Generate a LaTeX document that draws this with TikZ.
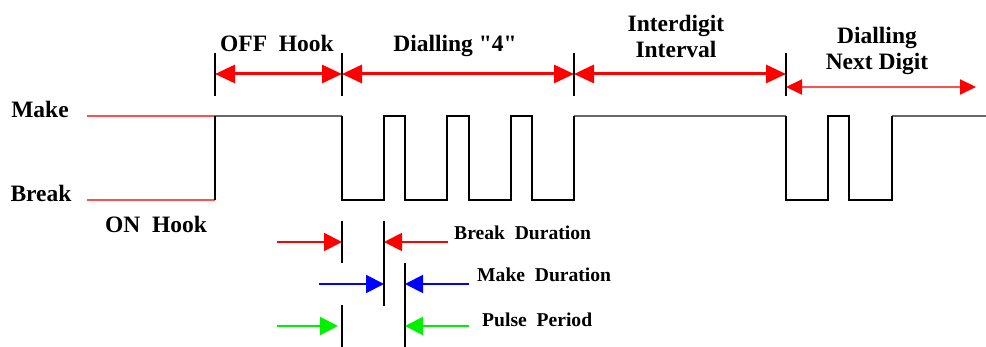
\documentclass[tikz,border=0pt]{standalone}
\usepackage{fontspec}
\setmainfont{Liberation Serif}
\usetikzlibrary{arrows.meta}
\definecolor{faintred}{RGB}{255,80,80}
\definecolor{lightred}{RGB}{255,80,80}
\definecolor{idlegray}{RGB}{105,105,105}
\definecolor{bgreen}{RGB}{0,240,0}
\begin{document}
\begin{tikzpicture}[x=1pt,y=-1pt,
  lbl/.style={font=\fontsize{23.5}{26}\selectfont\bfseries, inner sep=0, align=center},
  slbl/.style={font=\fontsize{19.6}{22}\selectfont\bfseries, inner sep=0, anchor=base west},
  pulse/.style={line width=2pt, black, line join=miter},
  idle/.style={line width=1.6pt, idlegray},
  faint/.style={line width=1.3pt, faintred},
  marker/.style={line width=2pt, black},
  span/.style={red, line width=3pt, {Triangle[length=20pt,width=18pt]}-{Triangle[length=20pt,width=18pt]}},
  nextspan/.style={lightred, line width=2pt, {Triangle[length=16pt,width=15pt,fill=red,color=red]}-{Triangle[length=16pt,width=15pt,fill=red,color=red]}},
  meas/.style={line width=2pt, -{Triangle[length=18pt,width=18pt]}},
]
\useasboundingbox (0,0) rectangle (986,347);

% level labels
\node[lbl, anchor=base] (make) at (40,118) {Make};
\node[lbl, anchor=base] (break) at (41,202) {Break};
\node[lbl, anchor=base] (onhook) at (156,233) {ON\ \ Hook};

% waveform
\draw[faint] (87,116) -- (215,116);
\draw[faint] (87,200) -- (215,200);
\draw[idle] (215,116) -- (342,116);
\draw[idle] (574,116) -- (786,116);
\draw[idle] (892,116) -- (986,116);
\draw[pulse] (215,200) -- (215,116);
\draw[pulse] (342,116) -- (342,200) -- (384,200) -- (384,116) -- (405,116) -- (405,200)
  -- (447,200) -- (447,116) -- (469,116) -- (469,200) -- (511,200) -- (511,116)
  -- (532,116) -- (532,200) -- (574,200) -- (574,116);
\draw[pulse] (786,116) -- (786,200) -- (828,200) -- (828,116) -- (849,116) -- (849,200)
  -- (892,200) -- (892,116);

% top markers
\foreach \i/\x in {1/215,2/342,3/574,4/786}{
  \coordinate (mt\i) at (\x,53);
  \coordinate (mb\i) at (\x,96);
  \draw[marker] (mt\i) -- (mb\i);
}
\coordinate (s1) at (215,74);
\coordinate (s2) at (342,74);
\coordinate (s3) at (574,74);
\coordinate (s4) at (786,74);
\coordinate (n4) at (786,87);
\coordinate (nend) at (976,87);
\draw[span] (s1) -- (s2);
\draw[span] (s2) -- (s3);
\draw[span] (s3) -- (s4);
\draw[nextspan] (n4) -- (nend);

\node[lbl, anchor=base] (offhook) at (277,52) {OFF\ \ Hook};
\node[lbl, anchor=base] (dial4) at (455,52) {Dialling \textquotedbl4\textquotedbl};
\node[lbl] (inter) at (676,36) {Interdigit\\Interval};
\node[lbl] (nextdig) at (877,51) {Dialling\\Next Digit};

% bottom measurement markers
\coordinate (bA1) at (342,221); \coordinate (bA2) at (342,263);
\coordinate (bB1) at (384,221); \coordinate (bB2) at (384,306);
\coordinate (bC1) at (405,263); \coordinate (bC2) at (405,347);
\coordinate (bD1) at (342,305); \coordinate (bD2) at (342,347);
\draw[marker] (bA1) -- (bA2);
\draw[marker] (bB1) -- (bB2);
\draw[marker] (bC1) -- (bC2);
\draw[marker] (bD1) -- (bD2);

\coordinate (r1) at (277,242); \coordinate (r1e) at (342,242);
\coordinate (r2) at (448,242); \coordinate (r2e) at (384,242);
\coordinate (u1) at (319,284); \coordinate (u1e) at (384,284);
\coordinate (u2) at (469,284); \coordinate (u2e) at (405,284);
\coordinate (g1) at (277,326); \coordinate (g1e) at (338,326);
\coordinate (g2) at (469,326); \coordinate (g2e) at (405,326);
\draw[meas, red] (r1) -- (r1e);
\draw[meas, red] (r2) -- (r2e);
\draw[meas, blue] (u1) -- (u1e);
\draw[meas, blue] (u2) -- (u2e);
\draw[meas, bgreen] (g1) -- (g1e);
\draw[meas, bgreen] (g2) -- (g2e);

\node[slbl] (bdur) at (454,240) {Break\ \ Duration};
\node[slbl] (mdur) at (477,282) {Make\ \ Duration};
\node[slbl] (pper) at (482,327) {Pulse\ \ Period};
\end{tikzpicture}
\end{document}
